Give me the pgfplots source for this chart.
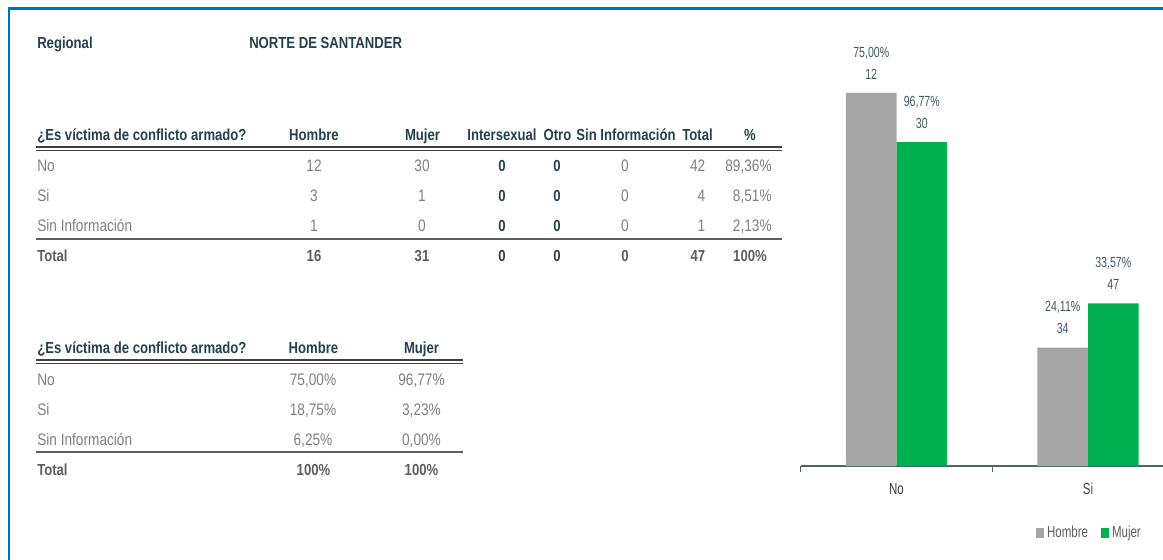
\documentclass[border=0pt]{standalone}
\usepackage{pgfplots}
\pgfplotsset{compat=1.18}
\usepackage{fontspec}
\setmainfont{Liberation Sans}[FakeStretch=0.82]
\newfontfamily\cf{Liberation Sans}[FakeStretch=0.72]
\definecolor{frame}{HTML}{0070C0}
\definecolor{hdr}{HTML}{23424E}
\definecolor{body}{HTML}{808080}
\definecolor{tot}{HTML}{5E5E5E}
\definecolor{rulec}{HTML}{404040}
\definecolor{barg}{HTML}{A5A5A5}
\definecolor{barv}{HTML}{00B050}
\definecolor{lab}{HTML}{3D5A66}
\definecolor{axl}{HTML}{4A6670}
\newcommand{\fs}{\fontsize{12.5pt}{14pt}\selectfont}
\newcommand{\fb}{\fontsize{12pt}{14pt}\selectfont\bfseries}
\newcommand{\fc}{\cf\fontsize{11pt}{16.5pt}\selectfont}
\newcommand{\ft}{\cf\fontsize{12pt}{14pt}\selectfont}
\begin{document}
\begin{tikzpicture}
\useasboundingbox (0pt,0pt) rectangle (872.25pt,-420pt);
\clip (0pt,0pt) rectangle (872.25pt,-420pt);
\fill[white] (0pt,0pt) rectangle (872.25pt,-420pt);
\begin{scope}[x=0.75pt,y=-0.75pt,
  H/.style={font=\fb, text=hdr, inner sep=0pt},
  B/.style={font=\fs, text=body, inner sep=0pt},
  T/.style={font=\fb, text=tot, inner sep=0pt},
  Z/.style={font=\fb, text=hdr, inner sep=0pt}]
\draw[frame, line width=1.6pt] (9,600) -- (9,8.5) -- (1200,8.5);
\coordinate (O) at (800.75,466);
% header
\node[H, anchor=base west] at (37,49) {Regional};
\node[H, anchor=base west] at (249,49) {NORTE DE SANTANDER};
% ---------- table 1 ----------
\node[H, anchor=base west] at (37,140) {¿Es víctima de conflicto armado?};
\node[H, anchor=base] at (314,140) {Hombre};
\node[H, anchor=base] at (422.5,140) {Mujer};
\node[H, anchor=base] at (502,140) {Intersexual};
\node[H, anchor=base] at (557.5,140) {Otro};
\node[H, anchor=base] at (626,140) {Sin Información};
\node[H, anchor=base] at (697.5,140) {Total};
\node[H, anchor=base] at (750,140) {\%};
\draw[rulec, line width=1.5pt] (36,147.3) -- (782,147.3);
\draw[rulec, line width=0.75pt] (36,150.6) -- (782,150.6);
% rows
\node[B, anchor=base west] at (37,171.5) {No};
\node[B, anchor=base] at (314,171.5) {12};
\node[B, anchor=base] at (422,171.5) {30};
\node[Z, anchor=base] at (502,171.5) {0};
\node[Z, anchor=base] at (557,171.5) {0};
\node[B, anchor=base] at (625,171.5) {0};
\node[B, anchor=base east] at (705.5,171.5) {42};
\node[B, anchor=base east] at (772,171.5) {89,36\%};
\node[B, anchor=base west] at (37,201.5) {Si};
\node[B, anchor=base] at (314,201.5) {3};
\node[B, anchor=base] at (422,201.5) {1};
\node[Z, anchor=base] at (502,201.5) {0};
\node[Z, anchor=base] at (557,201.5) {0};
\node[B, anchor=base] at (625,201.5) {0};
\node[B, anchor=base east] at (705.5,201.5) {4};
\node[B, anchor=base east] at (772,201.5) {8,51\%};
\node[B, anchor=base west] at (37,231.5) {Sin Información};
\node[B, anchor=base] at (314,231.5) {1};
\node[B, anchor=base] at (422,231.5) {0};
\node[Z, anchor=base] at (502,231.5) {0};
\node[Z, anchor=base] at (557,231.5) {0};
\node[B, anchor=base] at (625,231.5) {0};
\node[B, anchor=base east] at (705.5,231.5) {1};
\node[B, anchor=base east] at (772,231.5) {2,13\%};
\draw[tot, line width=1.2pt] (36,239) -- (782,239);
\node[T, anchor=base west] at (37,261.5) {Total};
\node[T, anchor=base] at (314,261.5) {16};
\node[T, anchor=base] at (422,261.5) {31};
\node[Z, anchor=base] at (502,261.5) {0};
\node[Z, anchor=base] at (557,261.5) {0};
\node[T, anchor=base] at (625,261.5) {0};
\node[T, anchor=base east] at (705.5,261.5) {47};
\node[T, anchor=base] at (750,261.5) {100\%};
% ---------- table 2 ----------
\node[H, anchor=base west] at (37,353) {¿Es víctima de conflicto armado?};
\node[H, anchor=base] at (313.5,353) {Hombre};
\node[H, anchor=base] at (421.5,353) {Mujer};
\draw[rulec, line width=1.5pt] (36,360.3) -- (463,360.3);
\draw[rulec, line width=0.75pt] (36,363.6) -- (463,363.6);
\node[B, anchor=base west] at (37,385) {No};
\node[B, anchor=base] at (313,385) {75,00\%};
\node[B, anchor=base] at (421.5,385) {96,77\%};
\node[B, anchor=base west] at (37,415) {Si};
\node[B, anchor=base] at (313,415) {18,75\%};
\node[B, anchor=base] at (421.5,415) {3,23\%};
\node[B, anchor=base west] at (37,445) {Sin Información};
\node[B, anchor=base] at (313,445) {6,25\%};
\node[B, anchor=base] at (421.5,445) {0,00\%};
\draw[tot, line width=1.2pt] (36,452) -- (463,452);
\node[T, anchor=base west] at (37,475) {Total};
\node[T, anchor=base] at (313.5,475) {100\%};
\node[T, anchor=base] at (421.5,475) {100\%};
\end{scope}
% ---------- chart ----------
\begin{axis}[
  at={(O)}, anchor=south west,
  scale only axis, width=287.25pt, height=335.9pt,
  xmin=-0.5, xmax=1.5, ymin=0, ymax=90,
  ybar=0pt, bar width=37.9pt,
  axis y line=none, axis x line*=bottom,
  x axis line style={axl, line width=0.9pt, -},
  xtick={-0.5,0.5,1.5}, xticklabels={},
  xtick pos=bottom, tick align=outside,
  major tick length=4.3pt,
  xtick style={axl, line width=0.9pt},
  extra x ticks={0,1}, extra x tick labels={No,Si},
  extra x tick style={major tick length=0pt,
    tick label style={anchor=base, yshift=-21.5pt, font=\ft, text=rulec}},
  nodes near coords, point meta=explicit symbolic,
  nodes near coords style={font=\fc, text=lab, align=center, anchor=south, inner sep=0pt, yshift=10pt},
  legend columns=2,
  legend style={at={(0.755,-0.15)}, anchor=center, draw=none, fill=none,
    font=\ft, text=tot, inner sep=0pt,
    /tikz/every even column/.append style={column sep=8pt}},
  clip=false,
]
\addplot[fill=barg, draw=none,
  legend image code/.code={\fill[barg] (0pt,-3.7pt) rectangle (6pt,3.7pt);}]
  coordinates {(0,75) [{75,00\%\\12}] (1,23.8) [{24,11\%\\34}]};
\addplot[fill=barv, draw=none,
  legend image code/.code={\fill[barv] (0pt,-3.7pt) rectangle (6pt,3.7pt);}]
  coordinates {(0,65.1) [{96,77\%\\30}] (1,32.7) [{33,57\%\\47}]};
\legend{Hombre,Mujer}
\end{axis}
\end{tikzpicture}
\end{document}
